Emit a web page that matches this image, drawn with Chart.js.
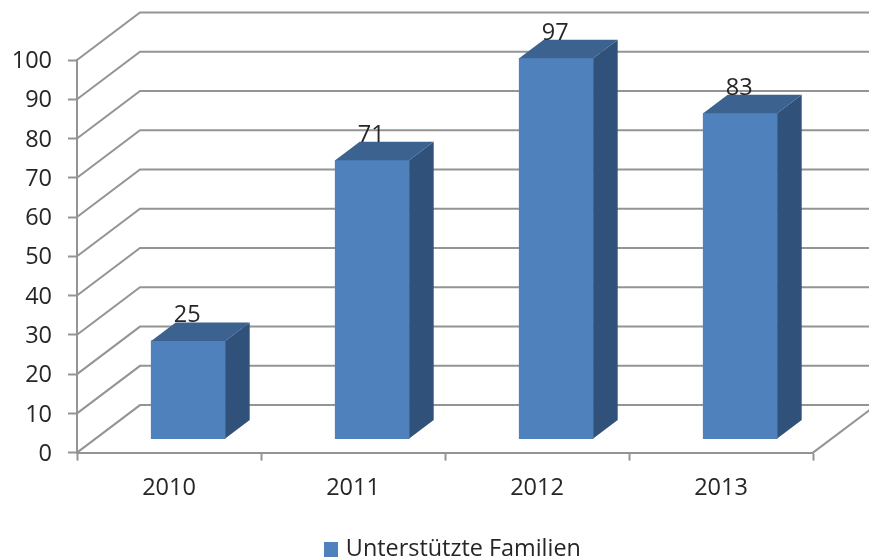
<!DOCTYPE html>
<html><head><meta charset="utf-8">
<style>html,body{margin:0;padding:0;background:#fff}canvas{display:block}</style>
<script src="https://cdn.jsdelivr.net/npm/chart.js@4"></script>
</head><body><canvas id="c" width="869" height="560"></canvas>
<script>
const categories = ['2010','2011','2012','2013'];
const seriesName = 'Unterstützte Familien';
const seriesValues = [25,71,97,83];
const axisMax = 100, axisStep = 10;

const FRONT='#4F81BD', TOP='#3C6390', SIDE='#30527A', GRID='#949494', TEXT='#262626';
const FONT='"Open Sans", sans-serif';
const wall={dx:63,dy:-47.5}, barShift={dx:19.2,dy:-13.5}, barDepth={dx:24.5,dy:-18.5};

const swatch=document.createElement('canvas');swatch.width=14;swatch.height=15;
const sc=swatch.getContext('2d');sc.fillStyle=FRONT;sc.fillRect(0,0,14,15);

const box3d={
  id:'box3d',
  afterLayout(chart){
    const l=chart.legend; l.left+=48; l.right+=48;
    const d=534-l.top; l.top+=d; l.bottom+=d;
  },
  beforeDraw(chart){
    const {ctx,scales:{x,y}}=chart;
    ctx.save();
    ctx.fillStyle='#fff';ctx.fillRect(0,0,chart.width,chart.height);
    ctx.strokeStyle=GRID;ctx.lineWidth=2;ctx.lineJoin='miter';
    y.ticks.forEach(t=>{
      const py=y.getPixelForValue(t.value);
      ctx.beginPath();ctx.moveTo(x.left,py);ctx.lineTo(x.left+wall.dx,py+wall.dy);
      ctx.lineTo(x.right+wall.dx,py+wall.dy);ctx.stroke();
    });
    const p0=y.getPixelForValue(0);
    ctx.beginPath();ctx.moveTo(x.right,p0);ctx.lineTo(x.right+wall.dx,p0+wall.dy);ctx.stroke();
    ctx.restore();
  },
  beforeDatasetsDraw(chart){chart.ctx.save();chart.ctx.translate(barShift.dx,barShift.dy);},
  afterDatasetsDraw(chart){
    const ctx=chart.ctx;
    chart.getDatasetMeta(0).data.forEach(b=>{
      const l=b.x-b.width/2,r=b.x+b.width/2,t=b.y,bt=b.base,{dx,dy}=barDepth;
      ctx.fillStyle=TOP;ctx.beginPath();ctx.moveTo(l,t);ctx.lineTo(l+dx,t+dy);ctx.lineTo(r+dx,t+dy);ctx.lineTo(r,t);ctx.closePath();ctx.fill();
      ctx.fillStyle=SIDE;ctx.beginPath();ctx.moveTo(r,t);ctx.lineTo(r+dx,t+dy);ctx.lineTo(r+dx,bt+dy);ctx.lineTo(r,bt);ctx.closePath();ctx.fill();
    });
    ctx.restore();
    ctx.save();
    ctx.fillStyle=TEXT;ctx.font='23.5px '+FONT;ctx.textAlign='center';ctx.textBaseline='alphabetic';
    chart.getDatasetMeta(0).data.forEach((b,i)=>{
      ctx.fillText(String(seriesValues[i]),b.x+barShift.dx-1,b.y+barShift.dy-18.5);
    });
    ctx.restore();
  }
};

new Chart(document.getElementById('c'),{
  type:'bar',
  data:{labels:categories,datasets:[{label:seriesName,data:seriesValues,backgroundColor:FRONT,borderWidth:0,barThickness:74,clip:false,pointStyle:swatch}]},
  plugins:[box3d],
  options:{
    responsive:false,animation:false,
    layout:{padding:{left:0,right:56,top:60,bottom:0}},
    plugins:{
      tooltip:{enabled:false},
      legend:{position:'bottom',labels:{usePointStyle:true,boxHeight:6,boxWidth:6,padding:4,color:TEXT,font:{family:FONT,size:23.4}}}
    },
    scales:{
      x:{
        afterFit(s){s.height=70;},
        grid:{drawOnChartArea:false,tickLength:8,color:GRID,tickWidth:2,offset:true},
        border:{color:GRID,width:2},
        ticks:{color:TEXT,padding:14,maxRotation:0,font:{family:FONT,size:23.5}}
      },
      y:{
        min:0,max:axisMax,
        afterFit(s){s.width=77;},
        grid:{drawOnChartArea:false,tickLength:9,color:GRID,tickWidth:2},
        border:{color:GRID,width:2},
        ticks:{stepSize:axisStep,color:TEXT,padding:16,labelOffset:1.5,font:{family:FONT,size:23.5}}
      }
    }
  }
});
</script></body></html>
